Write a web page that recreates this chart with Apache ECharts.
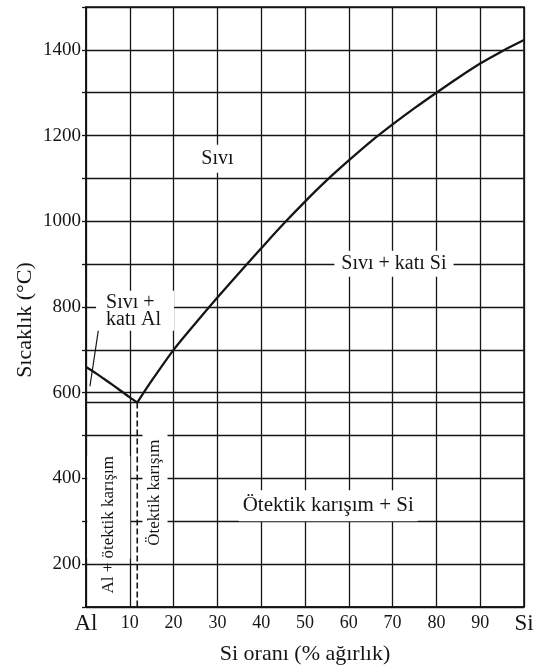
<!DOCTYPE html>
<html>
<head>
<meta charset="utf-8">
<script src="https://cdn.jsdelivr.net/npm/echarts@6/dist/echarts.min.js"></script>
<style>
  html, body { margin: 0; padding: 0; background: #fff; }
  #chart { width: 541px; height: 671px; }
</style>
</head>
<body>
<div id="chart"></div>
<script>
// Al–Si phase diagram: liquidus curves, eutectic isotherm and phase-region labels

const xTicks = [0, 10, 20, 30, 40, 50, 60, 70, 80, 90, 100];
const xTickLabels = ['Al', '10', '20', '30', '40', '50', '60', '70', '80', '90', 'Si'];
const yTickLabels = [200, 400, 600, 800, 1000, 1200, 1400];

// Liquidus, Al-rich side (wt% Si, °C)
const alLiquidusSi = [0, 2, 4, 6, 8, 10, 11.7];
const alLiquidusT = [660, 647, 633, 619, 604, 589, 577];

// Liquidus, Si-rich side (wt% Si, °C)
const siLiquidusSi = [11.7, 15, 20, 25, 30, 35, 40, 45, 50, 55, 60, 65, 70, 75, 80, 85, 90, 95, 100];
const siLiquidusT = [577, 628, 700, 762, 822, 880, 937, 993, 1046, 1096, 1142, 1186, 1226, 1264, 1300, 1335, 1368, 1397, 1423];

// Eutectic point
const eutecticSi = 11.7;
const eutecticT = 577;

// Temperature axis range
const tMin = 100;
const tMax = 1500;

const FONT = 'Liberation Serif';
const INK = '#151515';

const zip = (xs, ys) => xs.map((x, i) => [x, ys[i]]);

const labelTexts = {
  liquid: 'Sıvı',
  liquidSi: 'Sıvı + katı Si',
  liquidAl: 'Sıvı +\nkatı Al',
  eutecticSiRegion: 'Ötektik karışım + Si',
  eutecticOnly: 'Ötektik karışım',
  alEutectic: 'Al + ötektik karışım'
};

const chart = echarts.init(document.getElementById('chart'), null, { renderer: 'canvas' });

const baseLabel = {
  show: true,
  position: 'inside',
  color: INK,
  opacity: 1,
  textBorderWidth: 0,
  textBorderColor: 'transparent',
  fontFamily: FONT,
  fontSize: 20
};

chart.setOption({
  backgroundColor: '#fff',
  animation: false,
  grid: {
    left: 86, right: 17, top: 7, bottom: 64,
    show: true, borderColor: INK, borderWidth: 1.6, backgroundColor: 'transparent'
  },
  xAxis: {
    type: 'value',
    min: xTicks[0],
    max: xTicks[xTicks.length - 1],
    interval: 10,
    name: 'Si oranı (% ağırlık)',
    nameLocation: 'middle',
    nameGap: 36,
    nameMoveOverlap: false,
    nameTextStyle: { fontFamily: FONT, fontSize: 22, color: INK },
    axisLine: { show: true, lineStyle: { color: INK, width: 1.6 } },
    axisTick: { show: false },
    splitLine: { show: true, lineStyle: { color: INK, width: 1.3 } },
    axisLabel: {
      margin: 5,
      formatter: v => {
        const i = xTicks.indexOf(v);
        if (i < 0) return '';
        const t = xTickLabels[i];
        return /^\d+$/.test(t) ? '{n|' + t + '}' : '{e|' + t + '}';
      },
      rich: {
        n: { fontFamily: FONT, fontSize: 18, color: INK, padding: [2, 0, 0, 0] },
        e: { fontFamily: FONT, fontSize: 23, color: INK }
      }
    }
  },
  yAxis: {
    type: 'value',
    min: tMin,
    max: tMax,
    interval: 100,
    name: 'Sıcaklık (°C)',
    nameLocation: 'middle',
    nameRotate: 90,
    nameGap: 50,
    nameMoveOverlap: false,
    nameTextStyle: { fontFamily: FONT, fontSize: 22, color: INK, padding: [0, 26, 0, 0] },
    axisLine: { show: true, lineStyle: { color: INK, width: 1.6 } },
    axisTick: { show: true, inside: false, length: 4, lineStyle: { color: INK, width: 1.3 } },
    splitLine: { show: true, lineStyle: { color: INK, width: 1.3 } },
    axisLabel: {
      margin: 5,
      fontFamily: FONT,
      fontSize: 19,
      color: INK,
      formatter: v => (yTickLabels.indexOf(v) >= 0 ? String(v) : '')
    }
  },
  series: [
    {
      name: 'Al liquidus',
      type: 'line',
      data: zip(alLiquidusSi, alLiquidusT),
      symbol: 'none',
      smooth: 0.3,
      lineStyle: { color: INK, width: 2.3 },
      z: 3,
      markLine: {
        silent: true,
        symbol: ['none', 'arrow'],
        symbolSize: [0, 12],
        label: { show: false },
        itemStyle: { color: INK },
        lineStyle: { color: INK, width: 1.2, type: 'solid' },
        data: [[{ coord: [3.0, 758] }, { coord: [0.9, 615] }]]
      }
    },
    {
      name: 'Si liquidus',
      type: 'line',
      data: zip(siLiquidusSi, siLiquidusT),
      symbol: 'none',
      smooth: 0.3,
      lineStyle: { color: INK, width: 2.3 },
      z: 3
    },
    {
      name: 'Eutectic isotherm',
      type: 'line',
      data: [[xTicks[0], eutecticT], [xTicks[xTicks.length - 1], eutecticT]],
      symbol: 'none',
      lineStyle: { color: INK, width: 1.4 },
      z: 3
    },
    {
      name: 'Eutectic composition',
      type: 'line',
      data: [[eutecticSi, eutecticT], [eutecticSi, tMin]],
      symbol: 'none',
      lineStyle: { color: INK, width: 1.6, type: [6, 3] },
      z: 3
    },
    {
      name: 'Region labels',
      type: 'scatter',
      symbolSize: 0,
      silent: true,
      z: 10,
      itemStyle: { color: INK, opacity: 1 },
      emphasis: { disabled: true },
      data: [
        {
          value: [30, 1146],
          label: Object.assign({}, baseLabel, {
            formatter: labelTexts.liquid,
            backgroundColor: '#fff', padding: [4, 3]
          })
        },
        {
          value: [70.3, 901],
          label: Object.assign({}, baseLabel, {
            formatter: labelTexts.liquidSi,
            backgroundColor: '#fff', padding: [3, 7]
          })
        },
        {
          value: [55.3, 336],
          label: Object.assign({}, baseLabel, {
            formatter: labelTexts.eutecticSiRegion,
            fontSize: 21,
            backgroundColor: '#fff', padding: [5, 4]
          })
        },
        {
          value: [2.3, 791],
          label: Object.assign({}, baseLabel, {
            formatter: labelTexts.liquidAl,
            align: 'left',
            lineHeight: 17,
            backgroundColor: '#fff', padding: [3, 13, 3, 10]
          })
        },
        {
          value: [15.75, 369],
          label: Object.assign({}, baseLabel, {
            formatter: labelTexts.eutecticOnly,
            fontSize: 17,
            rotate: 90,
            lineHeight: 17,
            backgroundColor: '#fff', padding: [4, 6, 4, 4]
          })
        },
        {
          value: [5.2, 292],
          label: Object.assign({}, baseLabel, {
            formatter: '{a|Al + }{b|ötektik karışım}',
            rotate: 90,
            rich: {
              a: { fontFamily: FONT, fontSize: 17, color: INK },
              b: { fontFamily: FONT, fontSize: 17, color: INK, backgroundColor: '#fff', height: 43 }
            }
          })
        }
      ]
    }
  ]
});
</script>
</body>
</html>
